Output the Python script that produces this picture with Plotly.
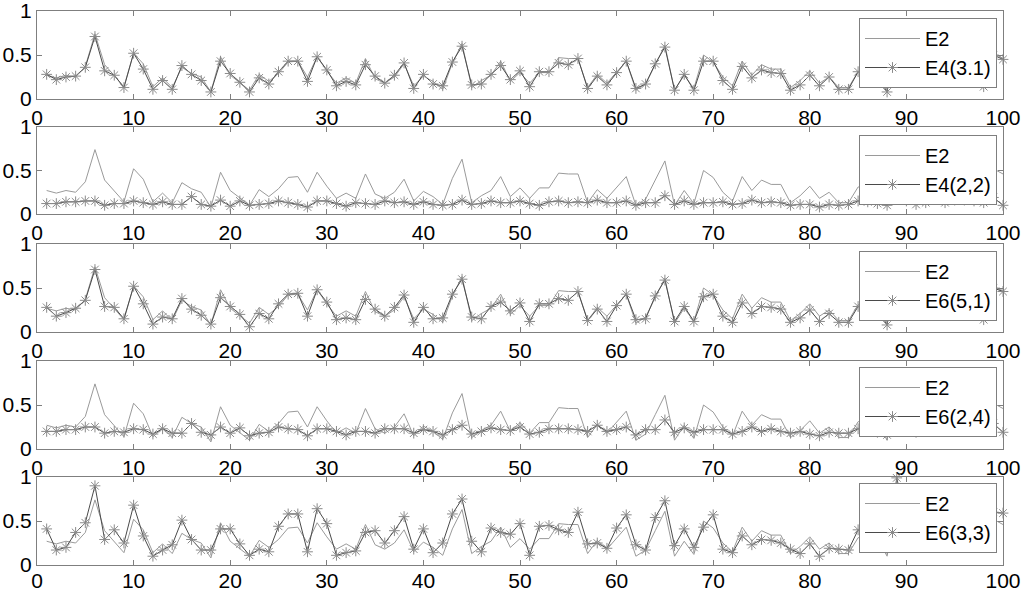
import plotly.graph_objects as go

x = list(range(1, 101))

e2 = [0.27, 0.24, 0.27, 0.25, 0.37, 0.74, 0.39, 0.27, 0.14, 0.52,
      0.40, 0.14, 0.24, 0.13, 0.36, 0.29, 0.25, 0.08, 0.48, 0.27,
      0.19, 0.10, 0.28, 0.20, 0.29, 0.42, 0.43, 0.25, 0.48, 0.32,
      0.18, 0.24, 0.18, 0.46, 0.23, 0.18, 0.25, 0.40, 0.15, 0.26,
      0.20, 0.11, 0.41, 0.63, 0.13, 0.21, 0.27, 0.43, 0.20, 0.30,
      0.18, 0.30, 0.30, 0.47, 0.46, 0.46, 0.13, 0.28, 0.18, 0.30,
      0.43, 0.10, 0.17, 0.39, 0.61, 0.10, 0.27, 0.12, 0.50, 0.42,
      0.25, 0.15, 0.43, 0.27, 0.39, 0.34, 0.34, 0.13, 0.21, 0.32,
      0.18, 0.25, 0.13, 0.13, 0.31, 0.33, 0.30, 0.10, 0.72, 0.40,
      0.30, 0.35, 0.45, 0.28, 0.30, 0.42, 0.33, 0.16, 0.52, 0.46]

e4_31 = [0.28, 0.22, 0.25, 0.26, 0.36, 0.71, 0.32, 0.27, 0.13, 0.52,
         0.34, 0.11, 0.21, 0.11, 0.38, 0.28, 0.21, 0.08, 0.43, 0.29,
         0.19, 0.08, 0.24, 0.17, 0.31, 0.43, 0.43, 0.20, 0.48, 0.33,
         0.15, 0.20, 0.16, 0.39, 0.26, 0.18, 0.27, 0.41, 0.12, 0.28,
         0.17, 0.15, 0.42, 0.60, 0.16, 0.17, 0.28, 0.38, 0.22, 0.32,
         0.14, 0.31, 0.31, 0.41, 0.39, 0.46, 0.12, 0.26, 0.16, 0.30,
         0.43, 0.12, 0.17, 0.40, 0.59, 0.10, 0.28, 0.10, 0.43, 0.43,
         0.21, 0.11, 0.37, 0.24, 0.33, 0.30, 0.29, 0.10, 0.16, 0.27,
         0.15, 0.25, 0.11, 0.11, 0.31, 0.28, 0.26, 0.08, 0.68, 0.42,
         0.30, 0.33, 0.42, 0.26, 0.27, 0.40, 0.29, 0.14, 0.50, 0.45]

e4_22 = [0.12, 0.12, 0.14, 0.14, 0.15, 0.15, 0.10, 0.12, 0.12, 0.15,
         0.13, 0.11, 0.14, 0.11, 0.11, 0.20, 0.11, 0.09, 0.16, 0.09,
         0.15, 0.10, 0.11, 0.12, 0.15, 0.13, 0.11, 0.08, 0.15, 0.15,
         0.12, 0.09, 0.13, 0.12, 0.11, 0.15, 0.13, 0.14, 0.11, 0.14,
         0.11, 0.10, 0.11, 0.16, 0.11, 0.12, 0.15, 0.13, 0.13, 0.15,
         0.12, 0.10, 0.14, 0.15, 0.13, 0.14, 0.13, 0.16, 0.13, 0.13,
         0.15, 0.10, 0.13, 0.13, 0.21, 0.11, 0.15, 0.11, 0.13, 0.13,
         0.14, 0.11, 0.12, 0.16, 0.13, 0.14, 0.13, 0.10, 0.11, 0.11,
         0.08, 0.11, 0.10, 0.11, 0.15, 0.14, 0.12, 0.10, 0.20, 0.15,
         0.11, 0.13, 0.18, 0.13, 0.16, 0.16, 0.15, 0.13, 0.19, 0.10]

e6_51 = [0.28, 0.18, 0.22, 0.27, 0.36, 0.71, 0.29, 0.28, 0.15, 0.52,
         0.32, 0.09, 0.17, 0.15, 0.38, 0.26, 0.19, 0.09, 0.39, 0.29,
         0.20, 0.06, 0.21, 0.15, 0.32, 0.43, 0.44, 0.18, 0.48, 0.34,
         0.14, 0.16, 0.14, 0.37, 0.26, 0.18, 0.28, 0.42, 0.11, 0.28,
         0.15, 0.16, 0.43, 0.60, 0.17, 0.15, 0.29, 0.34, 0.24, 0.33,
         0.12, 0.32, 0.32, 0.38, 0.36, 0.46, 0.13, 0.26, 0.12, 0.30,
         0.43, 0.14, 0.15, 0.41, 0.59, 0.12, 0.29, 0.12, 0.40, 0.43,
         0.18, 0.11, 0.33, 0.21, 0.29, 0.28, 0.26, 0.11, 0.16, 0.25,
         0.12, 0.21, 0.11, 0.11, 0.29, 0.25, 0.26, 0.08, 0.68, 0.40,
         0.28, 0.32, 0.42, 0.23, 0.25, 0.38, 0.29, 0.14, 0.50, 0.46]

e6_24 = [0.20, 0.20, 0.22, 0.22, 0.25, 0.25, 0.18, 0.20, 0.19, 0.23,
         0.22, 0.17, 0.23, 0.18, 0.18, 0.29, 0.19, 0.16, 0.25, 0.18,
         0.24, 0.15, 0.18, 0.19, 0.25, 0.23, 0.22, 0.15, 0.23, 0.23,
         0.20, 0.16, 0.20, 0.20, 0.18, 0.23, 0.23, 0.23, 0.18, 0.22,
         0.20, 0.16, 0.22, 0.27, 0.17, 0.20, 0.24, 0.22, 0.21, 0.25,
         0.17, 0.19, 0.23, 0.23, 0.23, 0.22, 0.20, 0.27, 0.20, 0.22,
         0.25, 0.16, 0.22, 0.22, 0.33, 0.19, 0.24, 0.19, 0.22, 0.22,
         0.22, 0.17, 0.20, 0.25, 0.20, 0.23, 0.20, 0.18, 0.20, 0.17,
         0.15, 0.19, 0.18, 0.18, 0.23, 0.22, 0.19, 0.16, 0.31, 0.22,
         0.19, 0.22, 0.28, 0.20, 0.25, 0.25, 0.23, 0.20, 0.29, 0.19]

e6_33 = [0.41, 0.17, 0.20, 0.37, 0.48, 0.90, 0.29, 0.40, 0.25, 0.68,
         0.33, 0.10, 0.17, 0.23, 0.51, 0.29, 0.17, 0.17, 0.41, 0.41,
         0.24, 0.11, 0.18, 0.15, 0.44, 0.58, 0.58, 0.15, 0.64, 0.47,
         0.11, 0.14, 0.16, 0.37, 0.39, 0.25, 0.39, 0.55, 0.18, 0.41,
         0.14, 0.25, 0.58, 0.75, 0.27, 0.15, 0.42, 0.37, 0.35, 0.47,
         0.11, 0.44, 0.45, 0.40, 0.37, 0.60, 0.24, 0.25, 0.19, 0.42,
         0.57, 0.23, 0.17, 0.54, 0.73, 0.22, 0.41, 0.20, 0.43, 0.57,
         0.18, 0.14, 0.33, 0.23, 0.29, 0.28, 0.25, 0.18, 0.13, 0.24,
         0.10, 0.19, 0.18, 0.17, 0.40, 0.26, 0.30, 0.18, 0.99, 0.50,
         0.35, 0.40, 0.55, 0.23, 0.25, 0.50, 0.40, 0.22, 0.60, 0.59]

others = [e4_31, e4_22, e6_51, e6_24, e6_33]
names = ["E4(3.1)", "E4(2,2)", "E6(5,1)", "E6(2,4)", "E6(3,3)"]

x_ticks = list(range(0, 101, 10))
y_ticks = [0, 0.5, 1]

# pixel geometry of the five panels (top, bottom) in a 592px tall figure
W, H = 1024, 592
ML, MR, MT, MB = 37, 21, 11, 27
panels_px = [(11, 99), (127, 214), (244, 332), (361, 449), (477, 565)]
legend_top_px = [18, 135, 251, 367, 483]
ph = H - MT - MB
pw = W - ML - MR


def py(p):
    return (H - MB - p) / ph


fig = go.Figure()
font = "Liberation Sans, Arial, Helvetica, sans-serif"
axis_color = "#7f7f7f"

for i, (series, name) in enumerate(zip(others, names)):
    k = i + 1
    xa = "x" if k == 1 else f"x{k}"
    ya = "y" if k == 1 else f"y{k}"
    lg = "legend" if k == 1 else f"legend{k}"
    fig.add_trace(go.Scatter(
        x=x, y=e2, mode="lines", name="E2",
        line=dict(color="#9a9a9a", width=1),
        xaxis=xa, yaxis=ya, legend=lg, cliponaxis=False))
    fig.add_trace(go.Scatter(
        x=x, y=series, mode="lines+markers", name=name,
        line=dict(color="#4a4a4a", width=1),
        marker=dict(symbol="asterisk-open", size=9,
                    line=dict(color="#8a8a8a", width=1), color="#8a8a8a"),
        xaxis=xa, yaxis=ya, legend=lg, cliponaxis=False))

    top, bot = panels_px[i]
    ax = dict(range=[0, 100], tickvals=x_ticks, ticks="inside", ticklen=5,
              tickcolor=axis_color, showline=True, linecolor=axis_color,
              linewidth=1, mirror="ticks", showgrid=False, zeroline=False,
              tickfont=dict(family=font, size=21, color="black"),
              ticklabeloverflow="allow",
              ticklabelstandoff=(-3 if k == 5 else 0),
              anchor=ya, domain=[0, 1], automargin=False)
    ay = dict(range=[0, 1], tickvals=y_ticks, ticktext=["0", "0.5", "1"],
              ticks="inside", ticklen=5, tickcolor=axis_color, showline=True,
              linecolor=axis_color, linewidth=1, mirror="ticks",
              showgrid=False, zeroline=False,
              tickfont=dict(family=font, size=21, color="black"),
              ticklabeloverflow="allow",
              anchor=xa, domain=[py(bot), py(top)], automargin=False)
    fig.update_layout(**{("xaxis" if k == 1 else f"xaxis{k}"): ax,
                         ("yaxis" if k == 1 else f"yaxis{k}"): ay})
    fig.update_layout(**{lg: dict(
        x=(997 - ML) / pw, y=py(legend_top_px[i]), xanchor="right",
        yanchor="top", bgcolor="white", bordercolor=axis_color,
        borderwidth=1, font=dict(family=font, size=20, color="black"),
        traceorder="normal", tracegroupgap=0, itemwidth=55)})

fig.update_layout(
    width=W, height=H,
    margin=dict(l=ML, r=MR, t=MT, b=MB, autoexpand=False),
    paper_bgcolor="white", plot_bgcolor="white",
    showlegend=True,
)

fig.write_html(
    "out.html",
    config={"displayModeBar": False},
    post_script="document.body.style.margin='0px';"
                "document.body.style.overflow='hidden';",
)
